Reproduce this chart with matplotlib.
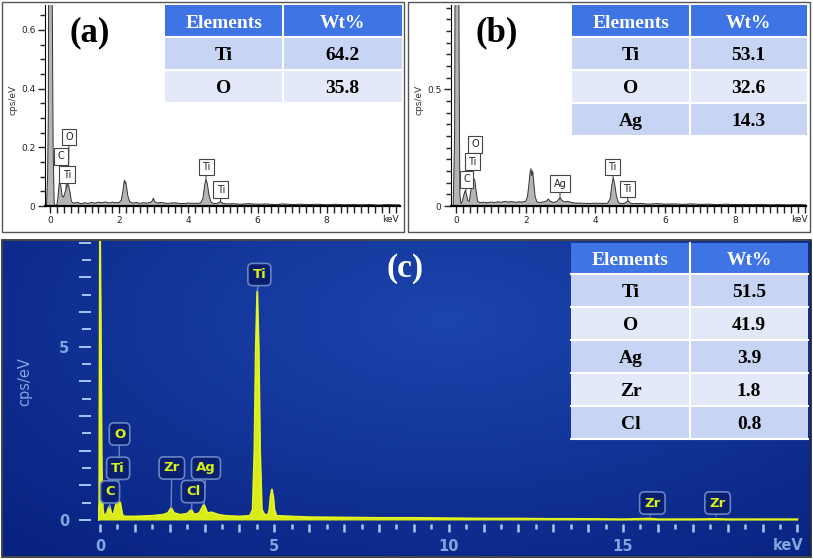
import numpy as np
import matplotlib.pyplot as plt
from matplotlib.patches import Rectangle
from matplotlib.ticker import MultipleLocator

W, H = 813, 559
DPI = 100

# ---- data ----
# EDS spectra, (keV, cps/eV)
spec_a = [(-0.14, 0.0), (-0.10, 0.005), (-0.07, 0.10), (-0.05, 0.3), (-0.03, 1.2), (0.0, 2.0),
          (0.03, 1.5), (0.06, 0.8), (0.09, 0.2), (0.12, 0.01), (0.16, 0.0), (0.20, 0.005),
          (0.23, 0.03), (0.26, 0.07), (0.28, 0.085), (0.31, 0.07), (0.35, 0.035), (0.39, 0.03),
          (0.43, 0.045), (0.47, 0.06), (0.51, 0.075), (0.54, 0.07), (0.58, 0.045), (0.62, 0.015),
          (0.68, 0.01), (0.8, 0.012), (0.9, 0.008), (1.0, 0.011), (1.1, 0.009), (1.2, 0.012),
          (1.3, 0.01), (1.4, 0.013), (1.5, 0.011), (1.6, 0.014), (1.7, 0.01), (1.8, 0.013),
          (1.9, 0.011), (2.0, 0.012), (2.06, 0.02), (2.10, 0.045), (2.13, 0.07), (2.15, 0.088),
          (2.17, 0.078), (2.19, 0.082), (2.22, 0.06), (2.25, 0.035), (2.30, 0.015), (2.4, 0.01),
          (2.5, 0.012), (2.6, 0.009), (2.7, 0.011), (2.8, 0.01), (2.9, 0.012), (2.96, 0.018),
          (2.99, 0.027), (3.02, 0.016), (3.1, 0.01), (3.2, 0.012), (3.4, 0.009), (3.6, 0.011),
          (3.8, 0.008), (4.0, 0.01), (4.2, 0.009), (4.35, 0.01), (4.42, 0.025), (4.47, 0.07),
          (4.51, 0.092), (4.55, 0.075), (4.6, 0.035), (4.66, 0.012), (4.75, 0.008), (4.85, 0.01),
          (4.93, 0.015), (5.0, 0.009), (5.1, 0.007), (5.3, 0.008), (5.5, 0.006), (5.75, 0.008),
          (6.0, 0.006), (6.25, 0.007), (6.5, 0.005), (6.75, 0.007), (7.0, 0.005), (7.25, 0.006),
          (7.5, 0.005), (7.75, 0.006), (8.0, 0.004), (8.25, 0.006), (8.5, 0.004), (8.75, 0.005),
          (9.0, 0.004), (9.25, 0.005), (9.5, 0.003), (9.75, 0.005), (10.0, 0.004), (10.12, 0.004)]

spec_b = [(-0.14, 0.0), (-0.08, 0.005), (-0.04, 0.3), (-0.02, 1.5), (0.02, 2.5), (0.06, 2.0),
          (0.09, 0.6), (0.11, 0.05), (0.14, 0.01), (0.18, 0.02), (0.22, 0.045), (0.26, 0.065),
          (0.30, 0.05), (0.34, 0.022), (0.38, 0.02), (0.42, 0.06), (0.46, 0.10), (0.50, 0.12),
          (0.54, 0.11), (0.58, 0.06), (0.62, 0.02), (0.68, 0.015), (0.8, 0.016), (0.9, 0.014),
          (1.0, 0.017), (1.1, 0.015), (1.2, 0.018), (1.3, 0.016), (1.4, 0.02), (1.5, 0.017),
          (1.6, 0.019), (1.7, 0.016), (1.8, 0.018), (1.9, 0.017), (2.0, 0.02), (2.05, 0.04),
          (2.09, 0.09), (2.12, 0.14), (2.15, 0.16), (2.17, 0.13), (2.20, 0.15), (2.23, 0.10),
          (2.27, 0.04), (2.32, 0.018), (2.4, 0.015), (2.5, 0.017), (2.6, 0.022), (2.65, 0.03),
          (2.7, 0.02), (2.8, 0.015), (2.9, 0.02), (2.95, 0.03), (2.99, 0.035), (3.03, 0.025),
          (3.1, 0.018), (3.2, 0.02), (3.3, 0.015), (3.4, 0.013), (3.6, 0.012), (3.8, 0.011),
          (4.0, 0.012), (4.2, 0.011), (4.35, 0.012), (4.42, 0.03), (4.47, 0.09), (4.51, 0.12),
          (4.55, 0.095), (4.6, 0.045), (4.66, 0.014), (4.75, 0.01), (4.85, 0.013), (4.93, 0.022),
          (5.0, 0.012), (5.1, 0.01), (5.3, 0.011), (5.5, 0.008), (5.75, 0.01), (6.0, 0.008),
          (6.25, 0.009), (6.5, 0.007), (6.75, 0.009), (7.0, 0.007), (7.25, 0.008), (7.5, 0.006),
          (7.75, 0.008), (8.0, 0.006), (8.25, 0.007), (8.5, 0.006), (8.75, 0.007), (9.0, 0.005),
          (9.25, 0.006), (9.5, 0.005), (9.75, 0.006), (10.0, 0.005), (10.06, 0.005)]

spec_c = [(-0.05, 0.0), (-0.02, 0.5), (0.0, 8.5), (0.02, 6.0), (0.05, 1.5), (0.08, 0.3),
          (0.12, 0.1), (0.2, 0.2), (0.25, 0.35), (0.28, 0.4), (0.32, 0.2), (0.36, 0.15),
          (0.4, 0.2), (0.46, 0.45), (0.52, 0.55), (0.58, 0.5), (0.64, 0.15), (0.7, 0.1),
          (1.0, 0.1), (1.25, 0.11), (1.5, 0.12), (1.8, 0.15), (1.95, 0.2), (2.04, 0.35),
          (2.12, 0.2), (2.3, 0.15), (2.5, 0.18), (2.62, 0.3), (2.7, 0.15), (2.85, 0.2),
          (2.98, 0.45), (3.08, 0.2), (3.2, 0.22), (3.4, 0.15), (3.6, 0.12), (4.0, 0.1),
          (4.3, 0.12), (4.38, 0.3), (4.43, 2.0), (4.47, 5.0), (4.51, 6.6), (4.55, 5.0),
          (4.59, 2.0), (4.64, 0.3), (4.72, 0.15), (4.82, 0.15), (4.86, 0.3), (4.89, 0.65),
          (4.93, 0.88), (4.97, 0.65), (5.0, 0.3), (5.06, 0.12), (5.5, 0.1), (6.0, 0.08),
          (7.0, 0.07), (8.0, 0.06), (9.0, 0.06), (10.0, 0.05), (11.0, 0.04), (12.0, 0.04),
          (13.0, 0.03), (14.0, 0.03), (15.0, 0.02), (15.77, 0.04), (16.0, 0.02), (17.0, 0.02),
          (17.67, 0.03), (18.0, 0.02), (19.0, 0.02), (20.0, 0.02)]

# peak labels: (element, keV, cps/eV at pointer tip)
peaks_a = [('O', 0.53, 0.08), ('C', 0.30, 0.09), ('Ti', 0.46, 0.06), ('Ti', 4.51, 0.095), ('Ti', 4.93, 0.015)]
peaks_b = [('O', 0.53, 0.20), ('Ti', 0.46, 0.12), ('C', 0.28, 0.06), ('Ag', 2.98, 0.03),
           ('Ti', 4.51, 0.12), ('Ti', 4.93, 0.02)]
peaks_c = [('Ti', 4.51, 6.6), ('O', 0.53, 0.6), ('Ti', 0.45, 0.5), ('C', 0.28, 0.35),
           ('Zr', 2.04, 0.35), ('Ag', 2.98, 0.45), ('Cl', 2.62, 0.3), ('Zr', 15.77, 0.12),
           ('Zr', 17.67, 0.12)]

# composition tables
elements_a = ['Ti', 'O']
wt_a = [64.2, 35.8]
elements_b = ['Ti', 'O', 'Ag']
wt_b = [53.1, 32.6, 14.3]
elements_c = ['Ti', 'O', 'Ag', 'Zr', 'Cl']
wt_c = [51.5, 41.9, 3.9, 1.8, 0.8]

# label box centres (data coords), same order as peaks_*
label_pos_a = [(0.55, 0.235), (0.32, 0.17), (0.49, 0.107), (4.52, 0.133), (4.94, 0.055)]
label_pos_b = [(0.55, 0.264), (0.47, 0.189), (0.30, 0.114), (2.99, 0.096), (4.48, 0.167), (4.91, 0.073)]
label_pos_c = [(4.57, 7.08), (0.56, 2.48), (0.52, 1.49), (0.29, 0.81), (2.06, 1.50),
               (3.04, 1.50), (2.67, 0.82), (15.84, 0.49), (17.71, 0.49)]


def px_axes(fig, x0, y0, x1, y1):
    return fig.add_axes([x0 / W, 1 - y1 / H, (x1 - x0) / W, (y1 - y0) / H])


fig = plt.figure(figsize=(W / DPI, H / DPI), dpi=DPI)
fig.patch.set_facecolor('white')

# panel (c) gradient background
bg = px_axes(fig, 3, 241, 810, 556)
yy, xx = np.mgrid[0:1:160j, 0:1:400j]
t = np.clip(np.sqrt(((xx - 0.55) / 0.8) ** 2 + ((yy - 0.25) / 1.0) ** 2), 0, 1)[..., None]
inner = np.array([0.11, 0.27, 0.68])
outer = np.array([0.03, 0.13, 0.50])
bg.imshow(inner * (1 - t) + outer * t, aspect='auto')
bg.axis('off')


def top_panel(ax, spec, peaks, pos, xlim, ylim, yticks, ylabels):
    e, c = np.array(spec).T
    ax.fill_between(e, 0, c, color='#b5b5b5', lw=0)
    ax.plot(e, c, color='#333333', lw=0.7)
    ax.set_xlim(*xlim)
    ax.set_ylim(*ylim)
    ax.set_facecolor('none')
    for s in ['top', 'right']:
        ax.spines[s].set_visible(False)
    ax.spines['bottom'].set_linewidth(1.6)
    ax.spines['left'].set_linewidth(0.8)
    ax.set_xticks(np.arange(0, 11, 2))
    ax.set_xticklabels(['0', '2', '4', '6', '8', ''])
    ax.text(9.85, -0.045 * ylim[1], 'keV', ha='center', va='top', fontsize=6.5,
            color='#222222', clip_on=False)
    ax.xaxis.set_minor_locator(MultipleLocator(0.2))
    ax.set_yticks(yticks)
    ax.set_yticklabels(ylabels)
    ax.yaxis.set_minor_locator(MultipleLocator(0.05))
    ax.tick_params(which='both', direction='out', color='#222222', width=1.0,
                   labelsize=6.5, labelcolor='#222222')
    ax.tick_params(axis='x', which='both', length=5, pad=2.5)
    ax.tick_params(axis='y', which='major', length=5, pad=2)
    ax.tick_params(axis='y', which='minor', length=3.5)
    for (lab, x, y), (tx, ty) in zip(peaks, pos):
        ax.annotate(lab, xy=(x, y), xytext=(tx, ty), ha='center', va='center',
                    fontsize=7, color='#222222',
                    bbox=dict(boxstyle='square,pad=0.35', fc='white', ec='#444444', lw=0.8),
                    arrowprops=dict(arrowstyle='-', color='#444444', lw=0.8,
                                    shrinkA=0, shrinkB=0))


axa = px_axes(fig, 45, 5, 400, 206)
top_panel(axa, spec_a, peaks_a, label_pos_a, (-0.145, 10.12), (0, 0.685),
          [0, 0.2, 0.4, 0.6], ['0', '0.2', '0.4', '0.6'])
axb = px_axes(fig, 451, 5, 806, 206)
top_panel(axb, spec_b, peaks_b, label_pos_b, (-0.144, 10.04), (0, 0.861),
          [0, 0.5], ['0', '0.5'])

# panel (c) spectrum
light = '#a9c6ee'
lab_col = '#7fa6dd'
axc = px_axes(fig, 98, 241, 803, 521)
ec, cc = np.array(spec_c).T
axc.fill_between(ec, 0, cc, color='#d8ec1a', lw=0)
axc.plot(ec, cc, color='#e6f520', lw=1.4)
axc.set_xlim(-0.057, 20.16)
axc.set_ylim(-0.029, 8.047)
axc.set_facecolor('none')
for s in axc.spines.values():
    s.set_visible(False)
axc.spines['left'].set_position(('outward', 5))
axc.spines['bottom'].set_position(('outward', 2))
axc.set_yticks(np.arange(0, 9, 1))
axc.set_yticklabels(['0', '', '', '', '', '5', '', '', ''])
axc.yaxis.set_minor_locator(MultipleLocator(0.5))
axc.set_xticks(np.arange(0, 21, 1))
axc.set_xticklabels([str(i) if i % 5 == 0 and i < 20 else '' for i in range(21)])
axc.xaxis.set_minor_locator(MultipleLocator(0.5))
axc.tick_params(which='both', color=light, labelcolor=lab_col, labelsize=10.5)
axc.tick_params(axis='y', which='major', length=8.5, width=1.4, pad=7)
axc.tick_params(axis='y', which='minor', length=6.5, width=1.4)
axc.tick_params(axis='x', which='major', length=6, width=1.8, pad=5)
axc.tick_params(axis='x', which='minor', length=3.6, width=1.8)
for lbl in axc.get_xticklabels() + axc.get_yticklabels():
    lbl.set_fontweight('bold')
for (lab, x, y), (tx, ty) in zip(peaks_c, label_pos_c):
    axc.annotate(lab, xy=(x, y), xytext=(tx, ty), ha='center', va='center',
                 fontsize=9.5, fontweight='bold', color='#d8f21a',
                 bbox=dict(boxstyle='round,pad=0.35', fc='#0b1f70', ec='#6685c4', lw=1.2),
                 arrowprops=dict(arrowstyle='-', color='#6685c4', lw=1.0, shrinkA=0, shrinkB=0))

# overlay in pixel coordinates: frames, panel letters, tables
ov = fig.add_axes([0, 0, 1, 1])
ov.set_xlim(0, W)
ov.set_ylim(H, 0)
ov.axis('off')
ov.patch.set_alpha(0)

ov.add_patch(Rectangle((2, 2), 402, 230, fill=False, ec='#555555', lw=1))
ov.add_patch(Rectangle((408, 2), 402, 230, fill=False, ec='#555555', lw=1))
ov.add_patch(Rectangle((2, 240), 809, 317, fill=False, ec='#222222', lw=1.2))

serif = 'Liberation Serif'
ov.text(90, 33, '(a)', ha='center', va='center', fontsize=25, fontweight='bold', family=serif)
ov.text(497, 33, '(b)', ha='center', va='center', fontsize=25, fontweight='bold', family=serif)
ov.text(405, 268, '(c)', ha='center', va='center', fontsize=24, fontweight='bold',
        family=serif, color='white')

ov.text(13, 100, 'cps/eV', rotation=90, ha='center', va='center', fontsize=6.5, color='#333333')
ov.text(419, 100, 'cps/eV', rotation=90, ha='center', va='center', fontsize=6.5, color='#333333')
ov.text(25, 382, 'cps/eV', rotation=90, ha='center', va='center', fontsize=10.5, color=lab_col)
ov.text(788, 545, 'keV', ha='center', va='center', fontsize=10.5, fontweight='bold', color=lab_col)


def draw_table(x0, xm, x1, ytop, hh, rh, elements, values):
    ov.add_patch(Rectangle((x0, ytop), x1 - x0, hh, fc='#3e74e4', ec='none'))
    ov.text((x0 + xm) / 2, ytop + hh / 2, 'Elements', ha='center', va='center_baseline',
            fontsize=14, fontweight='bold', family=serif, color='white')
    ov.text((xm + x1) / 2, ytop + hh / 2, 'Wt%', ha='center', va='center_baseline',
            fontsize=14, fontweight='bold', family=serif, color='white')
    for i, (el, v) in enumerate(zip(elements, values)):
        y = ytop + hh + i * rh
        ov.add_patch(Rectangle((x0, y), x1 - x0, rh, fc='#c7d4f3' if i % 2 == 0 else '#e3e9f8',
                               ec='none'))
        ov.text((x0 + xm) / 2, y + rh / 2, el, ha='center', va='center_baseline',
                fontsize=14, fontweight='bold', family=serif, color='black')
        ov.text((xm + x1) / 2, y + rh / 2, f'{v:.1f}', ha='center', va='center_baseline',
                fontsize=14, fontweight='bold', family=serif, color='black')
    ybot = ytop + hh + len(elements) * rh
    ov.plot([xm, xm], [ytop, ybot], color='white', lw=1.5)
    for i in range(len(elements) + 1):
        y = ytop + hh + i * rh
        ov.plot([x0, x1], [y, y], color='white', lw=1.5)


draw_table(165, 283, 402, 5, 32, 33, elements_a, wt_a)
draw_table(572, 690, 807, 5, 32, 33, elements_b, wt_b)
draw_table(571, 690, 808, 243, 31, 33, elements_c, wt_c)

fig.savefig('out.png', dpi=DPI)
